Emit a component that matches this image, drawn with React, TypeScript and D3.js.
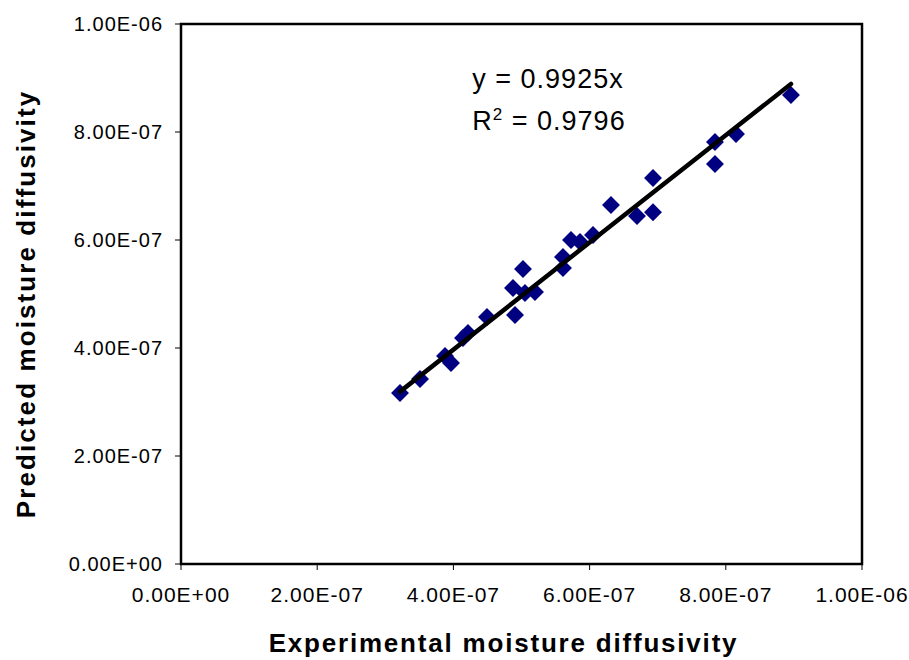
import React from "react";
import * as d3 from "d3";

const experimental = [
  3.216e-7, 3.51e-7, 3.877e-7, 3.965e-7, 4.141e-7, 4.214e-7, 4.493e-7, 4.875e-7,
  4.905e-7, 5.022e-7, 5.051e-7, 5.198e-7, 5.609e-7, 5.609e-7, 5.727e-7, 5.859e-7,
  6.05e-7, 6.314e-7, 6.696e-7, 6.931e-7, 6.931e-7, 7.841e-7, 7.841e-7, 8.15e-7, 8.957e-7,
];
const predicted = [
  3.167e-7, 3.426e-7, 3.852e-7, 3.722e-7, 4.185e-7, 4.278e-7, 4.574e-7, 5.111e-7,
  4.611e-7, 5.463e-7, 5.019e-7, 5.037e-7, 5.685e-7, 5.481e-7, 6.0e-7, 5.963e-7,
  6.093e-7, 6.648e-7, 6.444e-7, 6.515e-7, 7.148e-7, 7.815e-7, 7.407e-7, 7.963e-7, 8.685e-7,
];
const tickValues = [0, 2e-7, 4e-7, 6e-7, 8e-7, 1e-6];
const tickLabels = ["0.00E+00", "2.00E-07", "4.00E-07", "6.00E-07", "8.00E-07", "1.00E-06"];
const slope = 0.9925;
const rSquared = "0.9796";
const xTitle = "Experimental moisture diffusivity";
const yTitle = "Predicted moisture diffusivity";

const W = 909;
const H = 660;
const L = 181, R = 862, T = 24, B = 564;
const FONT = "'Liberation Sans', Arial, sans-serif";

export default function App() {
  const x = d3.scaleLinear().domain([0, 1e-6]).range([L, R]);
  const y = d3.scaleLinear().domain([0, 1e-6]).range([B, T]);
  const diamond = d3.symbol().type(d3.symbolSquare).size(160)();
  const xMin = d3.min(experimental) as number;
  const xMax = d3.max(experimental) as number;
  const line = d3.line<number>().x((v) => x(v)).y((v) => y(slope * v));

  return (
    <svg
      width={W}
      height={H}
      style={{ position: "absolute", left: 0, top: 0, background: "#fff" }}
    >
      <rect x={0} y={0} width={W} height={H} fill="#fff" />
      {tickValues.map((v, i) => (
        <g key={"xt" + i}>
          <line x1={x(v)} x2={x(v)} y1={B} y2={B + 6} stroke="#000" strokeWidth={1} />
          <text
            x={x(v)}
            y={602}
            textAnchor="middle"
            fontFamily={FONT}
            fontSize={21}
            letterSpacing={1}
            fill="#000"
          >
            {tickLabels[i]}
          </text>
        </g>
      ))}
      {tickValues.map((v, i) => (
        <g key={"yt" + i}>
          <line x1={L - 6} x2={L} y1={y(v)} y2={y(v)} stroke="#000" strokeWidth={1} />
          <text
            x={163}
            y={y(v) + 7}
            textAnchor="end"
            fontFamily={FONT}
            fontSize={20}
            letterSpacing={1}
            fill="#000"
          >
            {tickLabels[i]}
          </text>
        </g>
      ))}
      <rect x={L} y={T} width={R - L} height={B - T} fill="none" stroke="#000" strokeWidth={2.5} />
      {experimental.map((v, i) => (
        <path
          key={"p" + i}
          d={diamond}
          transform={`translate(${x(v)},${y(predicted[i])}) rotate(45)`}
          fill="#000080"
        />
      ))}
      <path
        d={line([xMin, xMax]) || ""}
        stroke="#000"
        strokeWidth={4.5}
        strokeLinecap="round"
        fill="none"
      />
      <text x={548} y={88} textAnchor="middle" fontFamily={FONT} fontSize={27} letterSpacing={1} fill="#000">
        {`y = ${slope}x`}
      </text>
      <text x={549} y={130} textAnchor="middle" fontFamily={FONT} fontSize={27} letterSpacing={1} fill="#000">
        R<tspan fontSize={17} dy={-10}>2</tspan>
        <tspan dy={10}>{` = ${rSquared}`}</tspan>
      </text>
      <text
        x={(L + R) / 2 - 18}
        y={652}
        textAnchor="middle"
        fontFamily={FONT}
        fontSize={26}
        fontWeight="bold"
        letterSpacing={1.8}
        fill="#000"
      >
        {xTitle}
      </text>
      <text
        transform={`translate(35,${(T + B) / 2 + 10}) rotate(-90)`}
        textAnchor="middle"
        fontFamily={FONT}
        fontSize={26}
        fontWeight="bold"
        letterSpacing={2.1}
        fill="#000"
      >
        {yTitle}
      </text>
    </svg>
  );
}
